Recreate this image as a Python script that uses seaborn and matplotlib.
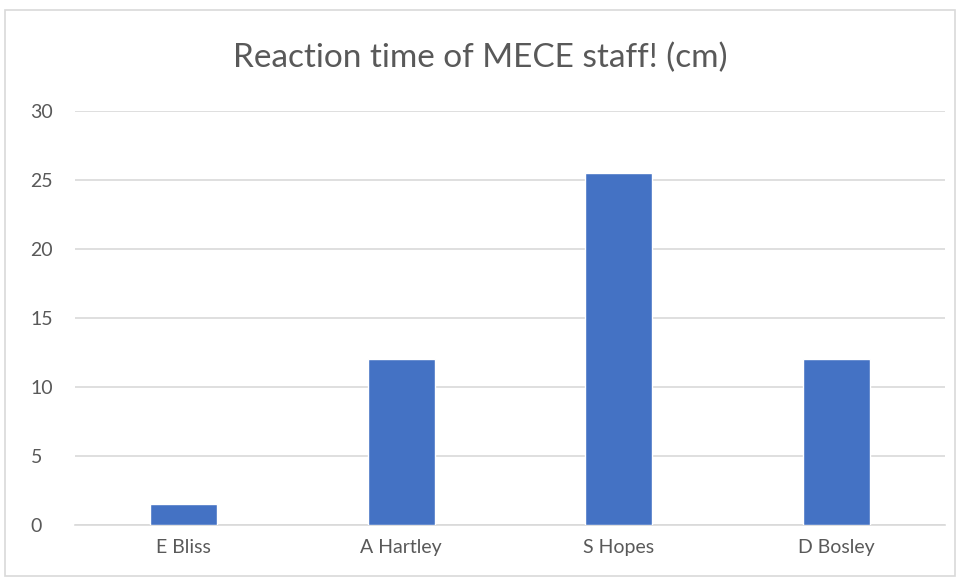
import matplotlib
matplotlib.use("Agg")
import matplotlib.pyplot as plt
import seaborn as sns
import pandas as pd
from matplotlib.patches import Rectangle

# data
names = ["E Bliss", "A Hartley", "S Hopes", "D Bosley"]
reaction_cm = [1.5, 12, 25.5, 12]
y_ticks = [0, 5, 10, 15, 20, 25, 30]

df = pd.DataFrame({"name": names, "cm": reaction_cm})

sns.set_style("white")
plt.rcParams["font.family"] = ["Lato", "DejaVu Sans"]

fig = plt.figure(figsize=(9.6, 5.81), dpi=100)
ax = fig.add_axes([75 / 960, 1 - 525 / 581, 870 / 960, 414 / 581])

sns.barplot(data=df, x="name", y="cm", color="#4472C4", width=0.31,
            saturation=1, ax=ax, zorder=3)

ax.set_ylim(0, 30)
ax.set_yticks(y_ticks)
ax.yaxis.grid(True, color="#D9D9D9", linewidth=1.2, zorder=0)
ax.set_axisbelow(True)
for s in ["top", "right", "left"]:
    ax.spines[s].set_visible(False)
ax.spines["bottom"].set_color("#D9D9D9")
ax.spines["bottom"].set_linewidth(1.2)
ax.set_xlabel("")
ax.set_ylabel("")
ax.tick_params(axis="both", length=0, labelsize=14, colors="#595959")
ax.tick_params(axis="y", pad=32)
ax.tick_params(axis="x", pad=10)
for lab in ax.get_yticklabels():
    lab.set_horizontalalignment("left")

fig.text(0.5, 1 - 58 / 581, "Reaction time of MECE staff! (cm)",
         ha="center", va="center", fontsize=24, color="#595959")

# outer chart border
fig.patches.append(Rectangle((5 / 960, 1 - 576 / 581), 950 / 960, 566 / 581,
                             transform=fig.transFigure, fill=False,
                             edgecolor="#D9D9D9", linewidth=1.2))

fig.savefig("out.png", dpi=100)
